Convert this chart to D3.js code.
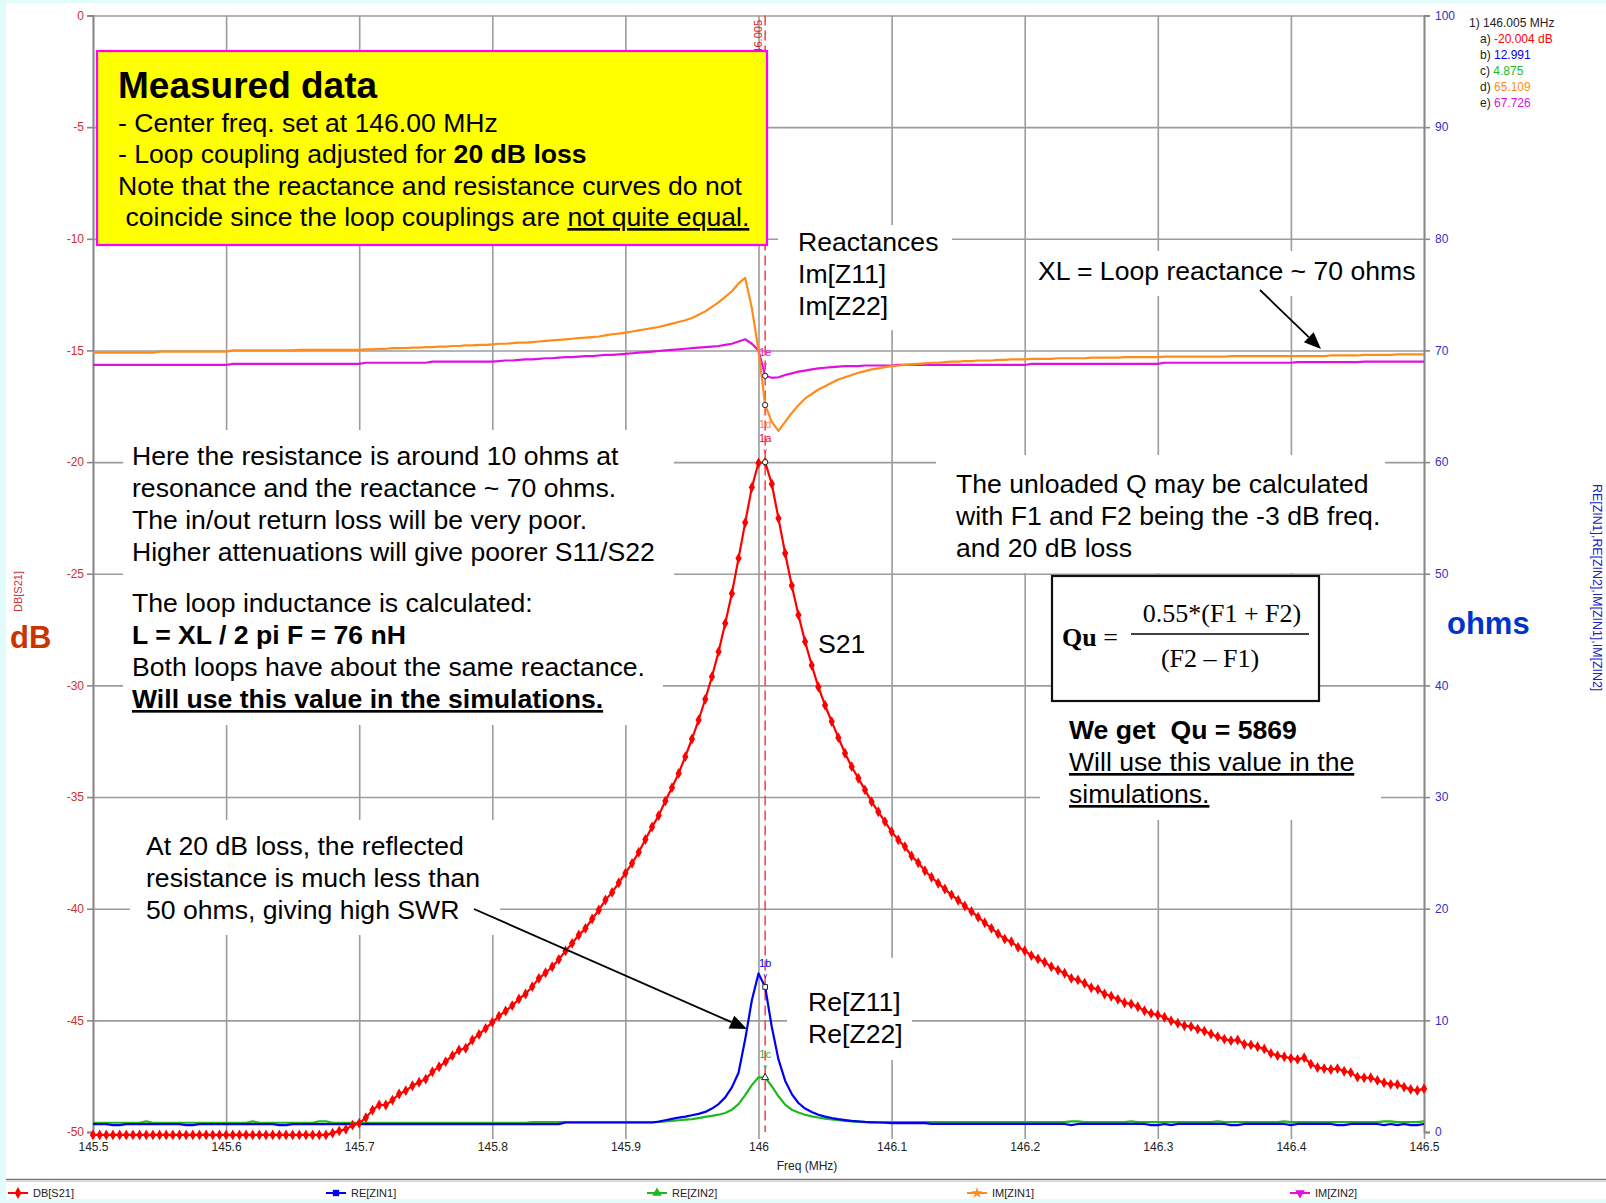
<!DOCTYPE html>
<html><head><meta charset="utf-8">
<script src="https://cdnjs.cloudflare.com/ajax/libs/d3/7.8.5/d3.min.js"></script>
<style>
body{margin:0;background:#e2fbfb;}
svg{display:block;font-family:"Liberation Sans",Arial,sans-serif;}
text{white-space:pre;}
</style>
</head><body>
<svg id="c" width="1606" height="1203"></svg>
<script>
// ---------------- DATA ----------------
// frequency sweep (MHz), 201 points, 5 kHz step
const freqs = d3.range(201).map(i => +(145.5 + i * 0.005).toFixed(3));

// DB[S21] (dB)
const dbS21 = [
-50.13,-50.13,-50.13,-50.13,-50.13,-50.13,-50.13,-50.13,-50.13,-50.13,
-50.13,-50.13,-50.13,-50.13,-50.13,-50.13,-50.13,-50.13,-50.13,-50.13,
-50.13,-50.13,-50.13,-50.13,-50.13,-50.13,-50.13,-50.13,-50.13,-50.13,
-50.13,-50.13,-50.13,-50.13,-50.13,-50.13,
-50.05,-49.95,-49.88,-49.69,-49.61,
-49.36,-49.02,-48.79,-48.79,-48.57,-48.30,-48.15,-47.93,-47.77,-47.63,-47.30,-47.08,-46.85,-46.58,-46.33,-46.25,-45.88,-45.63,-45.36,-45.09,
-44.81,-44.58,-44.34,-44.04,-43.82,-43.49,-43.12,-42.87,-42.60,-42.27,-41.89,-41.55,-41.18,-40.88,-40.46,-40.06,-39.61,-39.27,-38.84,-38.41,
-37.97,-37.47,-36.90,-36.34,-35.83,-35.18,-34.58,-33.94,-33.19,-32.40,-31.55,-30.62,-29.61,-28.49,-27.22,-25.88,-24.31,-22.71,-21.13,-20.04,
-20.00,-20.98,-22.52,-24.08,-25.53,-26.85,-28.04,-29.10,-30.07,-30.89,-31.62,-32.34,-33.04,-33.64,-34.16,-34.68,-35.21,-35.66,-36.10,-36.55,
-36.92,-37.22,-37.64,-37.94,-38.30,-38.59,-38.86,-39.12,-39.38,-39.62,-39.88,-40.12,-40.38,-40.63,-40.88,-41.12,-41.36,-41.48,-41.73,-41.88,
-42.10,-42.25,-42.40,-42.60,-42.75,-42.89,-43.12,-43.19,-43.34,-43.54,-43.61,-43.82,-43.92,-44.06,-44.21,-44.27,-44.39,-44.57,-44.69,-44.76,
-44.86,-45.02,-45.13,-45.24,-45.28,-45.39,-45.48,-45.61,-45.73,-45.84,-45.91,-45.88,-46.07,-46.10,-46.18,-46.28,-46.48,-46.58,-46.63,-46.70,
-46.75,-46.67,-46.96,-47.11,-47.16,-47.20,-47.16,-47.28,-47.34,-47.54,-47.57,-47.57,-47.69,-47.79,-47.87,-47.87,-47.99,-48.09,-48.14,-48.06
];

// RE[ZIN1] (ohms)
const reZin1 = [
0.70,
0.70,0.70,0.62,0.62,0.70,0.70,0.70,0.70,0.70,0.70,0.70,0.70,0.70,0.62,0.62,0.70,0.70,0.70,0.70,0.70,
0.70,0.70,0.70,0.70,0.70,0.70,0.70,0.62,0.62,0.70,0.70,0.70,0.70,0.70,0.70,0.70,0.70,0.70,0.70,0.70,
0.70,0.70,0.70,0.70,0.70,0.70,0.70,0.70,0.70,0.70,0.70,0.70,0.70,0.70,0.70,0.70,0.70,0.70,0.70,0.70,
0.70,0.70,0.70,0.70,0.70,0.70,0.70,0.70,0.70,0.70,0.85,0.85,0.85,0.85,0.85,0.85,0.85,0.85,0.85,0.85,
0.85,0.85,0.85,0.85,0.93,1.05,1.18,1.28,1.38,1.50,1.62,1.80,2.10,2.50,3.10,4.00,5.30,8.30,11.80,14.20,
12.99,9.40,6.50,4.60,3.40,2.60,2.10,1.80,1.55,1.38,1.25,1.15,1.07,1.00,0.95,0.90,0.87,0.85,0.83,0.80,
0.80,0.80,0.80,0.80,0.80,0.72,0.72,0.72,0.72,0.72,0.72,0.72,0.72,0.72,0.72,0.72,0.72,0.72,0.72,0.72,
0.72,0.72,0.72,0.72,0.72,0.72,0.62,0.72,0.72,0.72,0.72,0.72,0.72,0.72,0.72,0.72,0.72,0.72,0.62,0.62,
0.72,0.62,0.72,0.72,0.72,0.72,0.72,0.72,0.72,0.72,0.62,0.62,0.72,0.72,0.72,0.72,0.72,0.72,0.72,0.62,
0.72,0.72,0.72,0.72,0.72,0.72,0.62,0.62,0.72,0.72,0.72,0.72,0.72,0.62,0.72,0.62,0.72,0.62,0.62,0.72
];

// RE[ZIN2] (ohms)
const reZin2 = [
0.83,
0.83,0.83,0.83,0.83,0.83,0.83,0.83,0.95,0.83,0.83,0.83,0.83,0.83,0.83,0.83,0.83,0.83,0.83,0.83,0.83,
0.83,0.83,0.83,0.95,0.83,0.83,0.83,0.83,0.83,0.83,0.83,0.83,0.83,0.95,0.95,0.83,0.83,0.83,0.83,0.83,
0.83,0.83,0.83,0.83,0.83,0.83,0.83,0.83,0.83,0.83,0.83,0.83,0.83,0.83,0.83,0.83,0.83,0.83,0.83,0.83,
0.83,0.83,0.83,0.83,0.83,0.88,0.88,0.88,0.88,0.88,0.88,0.88,0.88,0.88,0.88,0.88,0.88,0.88,0.88,0.88,
0.88,0.88,0.88,0.88,0.90,0.95,1.00,1.05,1.10,1.15,1.25,1.35,1.45,1.55,1.70,2.00,2.50,3.30,4.20,4.90,
4.88,4.10,3.20,2.45,2.00,1.75,1.55,1.40,1.30,1.20,1.12,1.05,1.00,0.95,0.90,0.88,0.88,0.88,0.88,0.88,
0.88,0.88,0.88,0.88,0.88,0.88,0.88,0.88,0.88,0.88,0.88,0.88,0.88,0.88,0.88,0.88,0.88,0.88,0.88,0.88,
0.88,0.88,0.88,0.88,0.88,0.88,0.95,0.95,0.88,0.88,0.88,0.88,0.88,0.88,0.88,0.95,0.88,0.88,0.88,0.88,
0.88,0.88,0.88,0.88,0.88,0.88,0.88,0.88,0.95,0.88,0.88,0.88,0.88,0.88,0.88,0.88,0.88,0.88,0.95,0.88,
0.88,0.88,0.88,0.88,0.88,0.88,0.88,0.88,0.88,0.88,0.88,0.88,0.88,0.95,0.95,0.88,0.88,0.88,0.88,0.95
];

// IM[ZIN1] (ohms)
const imZin1 = [
69.8,
69.8,69.8,69.8,69.8,69.8,69.8,69.8,69.8,69.8,69.9,69.9,69.9,69.9,69.9,69.9,69.9,69.9,69.9,69.9,69.9,
70.0,70.0,70.0,70.0,70.0,70.0,70.0,70.0,70.0,70.0,70.05,70.05,70.05,70.05,70.05,70.05,70.05,70.05,70.05,70.05,
70.1,70.1,70.15,70.15,70.2,70.2,70.2,70.25,70.25,70.3,70.3,70.35,70.35,70.4,70.4,70.45,70.45,70.5,70.5,70.55,
70.6,70.6,70.65,70.7,70.7,70.75,70.8,70.85,70.9,70.95,71.0,71.05,71.1,71.15,71.2,71.25,71.35,71.45,71.5,71.6,
71.7,71.8,71.9,72.0,72.1,72.25,72.4,72.55,72.7,72.9,73.2,73.5,73.9,74.3,74.8,75.3,76.0,76.5,73.8,70.0,
65.11,63.6,62.8,63.6,64.4,65.1,65.7,66.1,66.5,66.8,67.1,67.4,67.6,67.8,68.0,68.15,68.3,68.4,68.5,68.6,
68.65,68.7,68.75,68.8,68.85,68.9,68.9,68.95,69.0,69.0,69.05,69.05,69.1,69.1,69.1,69.15,69.15,69.2,69.2,69.2,
69.25,69.25,69.25,69.25,69.3,69.3,69.3,69.3,69.3,69.35,69.35,69.35,69.35,69.35,69.4,69.4,69.4,69.4,69.4,69.4,
69.45,69.45,69.45,69.45,69.45,69.45,69.45,69.45,69.45,69.45,69.5,69.5,69.5,69.5,69.5,69.5,69.5,69.5,69.5,69.5,
69.5,69.5,69.5,69.5,69.5,69.55,69.55,69.55,69.55,69.55,69.6,69.6,69.6,69.6,69.6,69.65,69.65,69.65,69.65,69.65
];

// IM[ZIN2] (ohms)
const imZin2 = [
68.7,
68.7,68.7,68.7,68.7,68.7,68.7,68.7,68.7,68.7,68.7,68.7,68.7,68.7,68.7,68.7,68.7,68.7,68.7,68.7,68.7,
68.8,68.8,68.8,68.8,68.8,68.8,68.8,68.8,68.8,68.8,68.8,68.8,68.8,68.8,68.8,68.8,68.8,68.8,68.8,68.8,
68.9,68.9,68.9,68.9,68.9,68.9,68.9,68.9,68.9,68.9,69.0,69.0,69.0,69.0,69.0,69.0,69.0,69.0,69.0,69.0,
69.05,69.1,69.1,69.15,69.2,69.2,69.25,69.3,69.3,69.35,69.4,69.4,69.45,69.5,69.5,69.55,69.6,69.6,69.65,69.7,
69.75,69.8,69.85,69.9,69.95,70.0,70.05,70.1,70.15,70.2,70.25,70.3,70.35,70.4,70.5,70.6,70.8,71.0,70.6,70.0,
67.73,67.55,67.6,67.8,67.95,68.1,68.2,68.3,68.4,68.45,68.5,68.55,68.6,68.6,68.6,68.65,68.65,68.65,68.65,68.65,
68.7,68.7,68.7,68.7,68.7,68.7,68.7,68.7,68.7,68.7,68.7,68.7,68.7,68.7,68.7,68.7,68.7,68.7,68.7,68.7,
68.8,68.8,68.8,68.8,68.8,68.8,68.8,68.8,68.8,68.8,68.8,68.8,68.8,68.8,68.8,68.8,68.8,68.8,68.8,68.8,
68.9,68.9,68.9,68.9,68.9,68.9,68.9,68.9,68.9,68.9,68.9,68.9,68.9,68.9,68.9,68.9,68.9,68.9,68.9,68.9,
68.95,68.95,68.95,68.95,68.95,68.95,68.95,68.95,68.95,68.95,69.0,69.0,69.0,69.0,69.0,69.0,69.0,69.0,69.0,69.0
];

// axis ticks
const dbTicks = [0,-5,-10,-15,-20,-25,-30,-35,-40,-45,-50];
const ohmTicks = [100,90,80,70,60,50,40,30,20,10,0];
const freqTicks = [145.5,145.6,145.7,145.8,145.9,146,146.1,146.2,146.3,146.4,146.5];

// marker 1 readout
const markerFreq = 146.005;
const markerIds = ["1a","1b","1c","1d","1e"];
const markerVals = [-20.004, 12.991, 4.875, 65.109, 67.726];
const markerText = ["-20.004 dB","12.991","4.875","65.109","67.726"];

// legend
const legendNames = ["DB[S21]","RE[ZIN1]","RE[ZIN2]","IM[ZIN1]","IM[ZIN2]"];

// ---------------- STYLE ----------------
const C = {red:"#ff0000", blue:"#0000f0", green:"#1fb81f", orange:"#ff8c1a", magenta:"#e010e0"};
const W = 1606, H = 1203;
const FS = 26.6;
const svg = d3.select("#c");
svg.append("rect").attr("width",W).attr("height",H).attr("fill","#e2fbfb");
svg.append("rect").attr("x",6).attr("y",3).attr("width",W-6).attr("height",1196).attr("fill","#ffffff");

const x = d3.scaleLinear().domain([145.5,146.5]).range([93,1424]);
const yDb = d3.scaleLinear().domain([-50,0]).range([1132,15.5]);
const yOhm = d3.scaleLinear().domain([0,100]).range([1132,15.5]);

// grid
const gGrid = svg.append("g");
gGrid.append("g").attr("transform","translate(0,1139)")
  .call(d3.axisBottom(x).tickValues(freqTicks).tickSize(-(1139-15.5)).tickFormat(""))
  .call(g=>g.select(".domain").remove())
  .call(g=>g.selectAll("line").attr("stroke","#9c9c9c").attr("stroke-width",1.6));
gGrid.append("g").attr("transform","translate(93,0)")
  .call(d3.axisLeft(yDb).tickValues(dbTicks.filter(d=>d>-50)).tickSize(-(1424-93)).tickFormat(""))
  .call(g=>g.select(".domain").remove())
  .call(g=>g.selectAll("line").attr("stroke","#9c9c9c").attr("stroke-width",1.6));

// axes
const axL = svg.append("g").attr("transform","translate(93,0)")
  .call(d3.axisLeft(yDb).tickValues(dbTicks).tickSize(6).tickPadding(3).tickFormat(d=>String(d)));
axL.select(".domain").attr("stroke","#888").attr("stroke-width",1.8);
axL.selectAll("line").attr("stroke","#888").attr("stroke-width",1.6);
axL.selectAll("text").attr("fill","#d03030").attr("font-size",12).attr("font-family","Liberation Sans, Arial");

const axR = svg.append("g").attr("transform","translate(1424,0)")
  .call(d3.axisRight(yOhm).tickValues(ohmTicks).tickSize(6).tickPadding(5).tickFormat(d=>String(d)));
axR.select(".domain").attr("stroke","#888").attr("stroke-width",1.8);
axR.selectAll("line").attr("stroke","#888").attr("stroke-width",1.6);
axR.selectAll("text").attr("fill","#3030c8").attr("font-size",12).attr("font-family","Liberation Sans, Arial");

const axB = svg.append("g").attr("transform","translate(0,1132)")
  .call(d3.axisBottom(x).tickValues(freqTicks).tickSize(0).tickPadding(10).tickFormat(d=>String(+d.toFixed(1))));
axB.select(".domain").remove();
axB.selectAll("text").attr("fill","#222").attr("font-size",12).attr("font-family","Liberation Sans, Arial");

svg.append("text").attr("x",807).attr("y",1170).attr("text-anchor","middle")
  .attr("font-size",12).attr("fill","#222").text("Freq (MHz)");

// axis titles
svg.append("text").attr("transform","translate(22,612) rotate(-90)").attr("font-size",11)
  .attr("fill","#cc3333").text("DB[S21]");
svg.append("text").attr("x",10).attr("y",648).attr("font-size",31).attr("font-weight","bold")
  .attr("fill","#cc3300").text("dB");
svg.append("text").attr("x",1447).attr("y",634).attr("font-size",31).attr("font-weight","bold")
  .attr("fill","#0033cc").text("ohms");
svg.append("text").attr("transform","translate(1593,484) rotate(90)").attr("font-size",12.4)
  .attr("fill","#2020c0").text("RE[ZIN1],RE[ZIN2],IM[ZIN1],IM[ZIN2]");

// ---------------- WHITE TEXT BACKGROUNDS ----------------
const boxes = [
  [778,225,952,330],
  [1030,251,1400,296],
  [123,430,674,578],
  [123,578,663,725],
  [936,455,1385,573],
  [1040,702,1381,820],
  [130,820,500,935],
  [787,958,912,1060]
];
boxes.forEach(b=>svg.append("rect").attr("x",b[0]).attr("y",b[1]).attr("width",b[2]-b[0]).attr("height",b[3]-b[1])
  .attr("fill","#fff"));

// ---------------- MARKER LINE ----------------
const mx = x(markerFreq);
svg.append("line").attr("x1",mx).attr("x2",mx).attr("y1",15.5).attr("y2",1132)
  .attr("stroke","#ff3b3b").attr("stroke-width",1.5).attr("stroke-dasharray","10,5");
svg.append("text").attr("transform",`translate(${mx-3},20) rotate(-90)`).attr("text-anchor","end")
  .attr("font-size",11).attr("fill","#e02020").text("146.005");

// ---------------- CURVES ----------------
function series(vals){ return freqs.map((f,i)=>({f, v:vals[i]})); }
const lineDb = d3.line().x(d=>x(d.f)).y(d=>yDb(d.v));
const lineOhm = d3.line().x(d=>x(d.f)).y(d=>yOhm(d.v));
const gC = svg.append("g").attr("fill","none").attr("stroke-width",2.2).attr("stroke-linejoin","round");
gC.append("path").attr("d",lineOhm(series(imZin2))).attr("stroke",C.magenta);
gC.append("path").attr("d",lineOhm(series(imZin1))).attr("stroke",C.orange);
gC.append("path").attr("d",lineOhm(series(reZin2))).attr("stroke",C.green);
gC.append("path").attr("d",lineOhm(series(reZin1))).attr("stroke",C.blue);
gC.append("path").attr("d",lineDb(series(dbS21))).attr("stroke",C.red);
svg.append("g").selectAll("path").data(series(dbS21)).join("path")
  .attr("transform",d=>`translate(${x(d.f)},${yDb(d.v)})`)
  .attr("d",d3.symbol().type(d3.symbolDiamond).size(34)).attr("fill",C.red);

// marker points on curves
const mColors = [C.red,C.blue,C.green,C.orange,C.magenta];
const mY = [yDb(markerVals[0]), yOhm(markerVals[1]), yOhm(markerVals[2]), yOhm(markerVals[3]), yOhm(markerVals[4])];
const mSym = [d3.symbolCircle,d3.symbolSquare,d3.symbolTriangle,d3.symbolCircle,d3.symbolCircle];
const below = [false,false,false,true,false];
markerIds.forEach((id,i)=>{
  svg.append("path").attr("transform",`translate(${mx},${mY[i]})`)
    .attr("d",d3.symbol().type(mSym[i]).size(22)).attr("fill","#fff").attr("stroke","#222").attr("stroke-width",1);
  const col = mColors[i];
  if(!below[i]){
    svg.append("text").attr("x",mx).attr("y",mY[i]-9).attr("text-anchor","middle").attr("font-size",7).attr("fill",col).text("v");
    svg.append("text").attr("x",mx).attr("y",mY[i]-20).attr("text-anchor","middle").attr("font-size",11).attr("fill",col).text(id);
  } else {
    svg.append("text").attr("x",mx).attr("y",mY[i]+12).attr("text-anchor","middle").attr("font-size",8).attr("fill",col).text("^");
    svg.append("text").attr("x",mx).attr("y",mY[i]+23).attr("text-anchor","middle").attr("font-size",11).attr("fill",col).text(id);
  }
});

// marker readout
const ro = svg.append("g").attr("font-size",12);
ro.append("text").attr("x",1469).attr("y",27).attr("fill","#222").text("1) 146.005 MHz");
["a)","b)","c)","d)","e)"].forEach((l,i)=>{
  const t = ro.append("text").attr("x",1480).attr("y",43+15.9*i);
  t.append("tspan").attr("fill","#222").text(l+" ");
  t.append("tspan").attr("fill",mColors[i]).text(markerText[i]);
});

// ---------------- ANNOTATIONS ----------------
function block(x0, y0, dy, lines, size){
  const t = svg.append("text").attr("font-size",size).attr("fill","#000");
  lines.forEach((ln,i)=>{
    const segs = Array.isArray(ln) ? ln : [[ln]];
    segs.forEach((s,j)=>{
      const sp = t.append("tspan").text(s[0]);
      if(j===0) sp.attr("x",x0).attr("y",y0+dy*i);
      if(s[1]&&s[1].includes("b")) sp.attr("font-weight","bold");
      if(s[1]&&s[1].includes("u")) sp.attr("text-decoration","underline");
    });
  });
  return t;
}

// yellow box
svg.append("rect").attr("x",97).attr("y",51).attr("width",670).attr("height",194)
  .attr("fill","#ffff00").attr("stroke","#ff00ff").attr("stroke-width",2.2);
svg.append("text").attr("x",118).attr("y",98).attr("font-size",37).attr("font-weight","bold").text("Measured data");
block(118,131.5,31.5,[
  "- Center freq. set at 146.00 MHz",
  [["- Loop coupling adjusted for "],["20 dB loss","b"]],
  "Note that the reactance and resistance curves do not",
  [[" coincide since the loop couplings are "],["not quite equal.","u"]]
],FS);

block(798,251,32,["Reactances","Im[Z11]","Im[Z22]"],FS);
block(1038,280,32,["XL = Loop reactance ~ 70 ohms"],FS);
block(132,465,32,[
  "Here the resistance is around 10 ohms at",
  "resonance and the reactance ~ 70 ohms.",
  "The in/out return loss will be very poor.",
  "Higher attenuations will give poorer S11/S22"
],FS);
block(132,612,32,[
  "The loop inductance is calculated:",
  [["L = XL / 2 pi F = 76 nH","b"]],
  "Both loops have about the same reactance.",
  [["Will use this value in the simulations.","bu"]]
],FS);
block(818,653,32,["S21"],FS);
block(956,493,32,[
  "The unloaded Q may be calculated",
  "with F1 and F2 being the -3 dB freq.",
  "and 20 dB loss"
],FS);
block(1069,739,32,[
  [["We get  Qu = 5869","b"]],
  [["Will use this value in the","u"]],
  [["simulations.","u"]]
],FS);
block(146,855,32,[
  "At 20 dB loss, the reflected",
  "resistance is much less than",
  "50 ohms, giving high SWR"
],FS);
block(808,1011,32,["Re[Z11]","Re[Z22]"],FS);

// Qu formula box
svg.append("rect").attr("x",1052).attr("y",576).attr("width",267).attr("height",125)
  .attr("fill","#fff").attr("stroke","#111").attr("stroke-width",2.2);
const ser = svg.append("g").attr("font-family","Liberation Serif, Times New Roman, serif").attr("font-size",26);
const qt = ser.append("text").attr("x",1062).attr("y",646);
qt.append("tspan").attr("font-weight","bold").text("Qu");
qt.append("tspan").text(" =");
ser.append("text").attr("x",1222).attr("y",622).attr("text-anchor","middle").text("0.55*(F1 + F2)");
ser.append("line").attr("x1",1131).attr("x2",1309).attr("y1",634).attr("y2",634).attr("stroke","#000").attr("stroke-width",1.6);
ser.append("text").attr("x",1210).attr("y",667).attr("text-anchor","middle").text("(F2 \u2013 F1)");

// arrows
function arrow(x1,y1,x2,y2){
  const a = Math.atan2(y2-y1,x2-x1), L=17, w=7;
  const bx = x2-L*Math.cos(a), by = y2-L*Math.sin(a);
  svg.append("line").attr("x1",x1).attr("y1",y1).attr("x2",bx).attr("y2",by).attr("stroke","#000").attr("stroke-width",1.8);
  svg.append("path").attr("d",`M${x2},${y2}L${bx-w*Math.sin(a)},${by+w*Math.cos(a)}L${bx+w*Math.sin(a)},${by-w*Math.cos(a)}Z`).attr("fill","#000");
}
arrow(1260,290,1321,349);
arrow(474,909,747,1029);

// ---------------- LEGEND ----------------
svg.append("line").attr("x1",6).attr("x2",W).attr("y1",1179.5).attr("y2",1179.5).attr("stroke","#777").attr("stroke-width",1.5);
svg.append("line").attr("x1",6).attr("x2",W).attr("y1",1181.5).attr("y2",1181.5).attr("stroke","#d8d8d8").attr("stroke-width",1);
const legX = [18,336,657,977,1300];
const legSym = [d3.symbolDiamond,d3.symbolSquare,d3.symbolTriangle,d3.symbolStar,d3.symbolTriangle];
legendNames.forEach((n,i)=>{
  const cx = legX[i], cy = 1193;
  svg.append("line").attr("x1",cx-10).attr("x2",cx+10).attr("y1",cy).attr("y2",cy).attr("stroke",mColors[i]).attr("stroke-width",2);
  svg.append("path").attr("transform",`translate(${cx},${cy})${i===4?" rotate(180)":""}`)
    .attr("d",d3.symbol().type(legSym[i]).size(40)).attr("fill",mColors[i]);
  svg.append("text").attr("x",cx+15).attr("y",cy+4).attr("font-size",11).attr("fill","#222").text(n);
});
</script>
</body></html>
